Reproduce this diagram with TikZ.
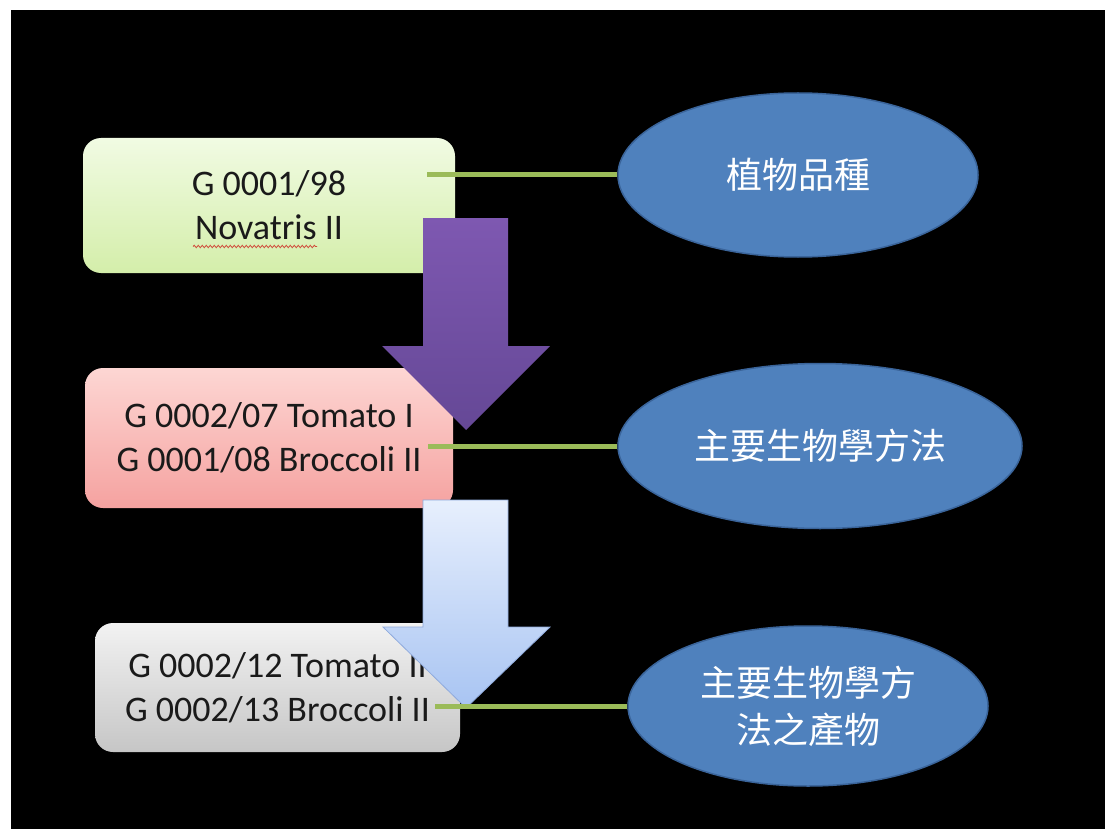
\documentclass[tikz,border=0pt]{standalone}
\usepackage{fontspec}
\setmainfont{Carlito}
\newfontfamily\cjk{Noto Sans CJK TC}
\usetikzlibrary{shapes.geometric,decorations.pathmorphing}
\definecolor{gtop}{HTML}{F1FBE3}
\definecolor{gbot}{HTML}{D4EEAA}
\definecolor{ptop}{HTML}{FDD6D3}
\definecolor{pbot}{HTML}{F5A2A0}
\definecolor{ytop}{HTML}{F2F2F2}
\definecolor{ybot}{HTML}{C6C6C6}
\definecolor{vtop}{HTML}{7E58B1}
\definecolor{vbot}{HTML}{654896}
\definecolor{btop}{HTML}{E7EFFD}
\definecolor{bbot}{HTML}{A8C4F2}
\definecolor{bedge}{HTML}{8FAADC}
\definecolor{ofill}{HTML}{4F81BD}
\definecolor{oedge}{HTML}{3A649A}
\definecolor{linkc}{HTML}{9BBB59}
\definecolor{txt}{HTML}{1A1A1A}
\definecolor{wavy}{HTML}{D04A3A}
\tikzset{
  casebox/.style={rectangle, rounded corners=18pt, inner sep=0pt, align=center,
    text=txt, font=\fontsize{36}{44}\selectfont},
  oval/.style={ellipse, fill=ofill, draw=oedge, line width=1.5pt, inner sep=0pt,
    align=center, text=white, font=\cjk\fontsize{36}{47}\selectfont},
  link/.style={draw=linkc, line width=5pt},
  purplearrow/.style={top color=vtop, bottom color=vbot},
  bluearrow/.style={top color=btop, bottom color=bbot, draw=bedge, line width=0.8pt},
}
\begin{document}
\begin{tikzpicture}[x=1pt,y=-1pt]
\useasboundingbox (0,0) rectangle (1105,829);
\fill[white] (0,0) rectangle (1105,829);
\fill[black] (11,10) rectangle (1105,829);

% case boxes
\node[casebox, top color=gtop, bottom color=gbot, minimum width=372pt, minimum height=135pt]
  (b1) at (269,205.5) {G 0001/98\\Novatris II};
\node[casebox, top color=ptop, bottom color=pbot, minimum width=368pt, minimum height=140pt]
  (b2) at (269,438) {G 0002/07 Tomato I\\G 0001/08 Broccoli II};
\node[casebox, top color=ytop, bottom color=ybot, minimum width=365pt, minimum height=129pt]
  (b3) at (277.5,687.5) {G 0002/12 Tomato II\\G 0002/13 Broccoli II};

% spell-check wavy underline
\draw[wavy, line width=0.8pt, decorate, decoration={snake, amplitude=1.2pt, segment length=4pt}]
  ([shift={(-76,41)}]b1.center) -- ([shift={(48,41)}]b1.center);

% block arrows
\shade[purplearrow] (423,218) -- (508,218) -- (508,346) -- (550,346) -- (466,430)
  -- (382,346) -- (423,346) -- cycle;
\shade[bluearrow] (423,500) -- (508,500) -- (508,627) -- (550,627) -- (466,708)
  -- (383,627) -- (423,627) -- cycle;

% ovals
\node[oval, minimum width=360pt, minimum height=164pt] (e1) at (798,175) {植物品種};
\node[oval, minimum width=404pt, minimum height=165pt] (e2) at (820,446) {主要生物學方法};
\node[oval, minimum width=360pt, minimum height=160pt] (e3) at (808,706) {主要生物學方\\法之產物};

% connectors
\path (b1.east |- e1.west) coordinate (s1);
\path (b2.east |- e2.west) coordinate (s2);
\path (b3.east |- e3.west) coordinate (s3);
\draw[link] ([xshift=-28pt]s1) -- (e1.west);
\draw[link] ([xshift=-25pt]s2) -- (e2.west);
\draw[link] ([xshift=-25pt]s3) -- (e3.west);
\end{tikzpicture}
\end{document}
